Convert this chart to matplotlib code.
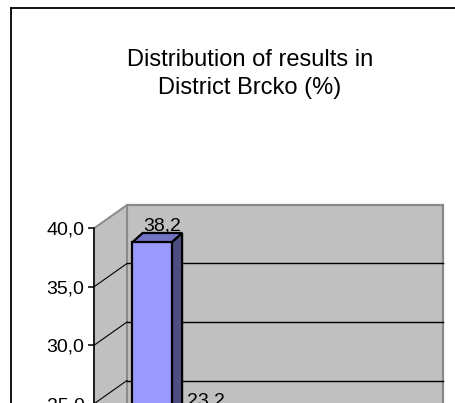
import numpy as np
import matplotlib.pyplot as plt
from matplotlib.patches import Polygon
from matplotlib.lines import Line2D
from matplotlib.transforms import ScaledTranslation
from matplotlib.ticker import FuncFormatter, MultipleLocator

plt.rcParams['font.family'] = ['Liberation Sans', 'DejaVu Sans']

title = "Distribution of results in\nDistrict Brcko (%)"
values = [38.2, 23.2]
y_max = 40
y_step = 5

W, H = 456, 403
fig = plt.figure(figsize=(W / 100, H / 100), dpi=100)

# front plane of the 3D box, in pixels
px_left, px_right = 94, 409.7
px_y40, px_per_unit = 228.3, 11.7
px_y0 = px_y40 + y_max * px_per_unit
cat_px = 43.5          # pixels per category
first_px = 142         # front-plane centre of first bar

ax = fig.add_axes([px_left / W, (H - px_y0) / H,
                   (px_right - px_left) / W, (px_y0 - px_y40) / H])
ax.set_xlim(-(first_px - px_left) / cat_px, (px_right - first_px) / cat_px)
ax.set_ylim(0, y_max)
x0, x1 = ax.get_xlim()

# depth of the walls (data units)
DX = 33 / cat_px
DY = 23.3 / px_per_unit

wall = '#c0c0c0'
wall_edge = '#8a8a8a'
back = Polygon([(x0 + DX, DY), (x1 + DX, DY), (x1 + DX, y_max + DY), (x0 + DX, y_max + DY)],
               closed=True, fc=wall, ec=wall_edge, lw=1.6, clip_on=False, zorder=1)
side = Polygon([(x0, 0), (x0 + DX, DY), (x0 + DX, y_max + DY), (x0, y_max)],
               closed=True, fc=wall, ec=wall_edge, lw=1.4, clip_on=False, zorder=1)
ax.add_patch(back)
ax.add_patch(side)

for g in np.arange(y_step, y_max, y_step):
    ax.plot([x0 + DX, x1 + DX], [g + DY, g + DY], color='black', lw=1.0, zorder=2, clip_on=False)
    ax.plot([x0, x0 + DX], [g, g + DY], color='black', lw=0.8, zorder=2, clip_on=False)

# bars
bw = 39.4 / cat_px
f0 = 0.3
bdx = 10.5 / cat_px
bdy = 9.4 / px_per_unit
front_c, side_c, top_c = '#9999ff', '#4d4d80', '#7373c4'
lab_shift = ScaledTranslation(0, 8.5 / 72, fig.dpi_scale_trans)
for i in range(len(values) - 1, -1, -1):
    v = values[i]
    l = i - bw / 2 + f0 * DX
    r = i + bw / 2 + f0 * DX
    b = f0 * DY
    t = v + f0 * DY
    kw = dict(closed=True, ec='black', lw=1.6, joinstyle='miter', clip_on=False, zorder=3)
    ax.add_patch(Polygon([(r, b), (r + bdx, b + bdy), (r + bdx, t + bdy), (r, t)], fc=side_c, **kw))
    ax.add_patch(Polygon([(l, t), (r, t), (r + bdx, t + bdy), (l + bdx, t + bdy)], fc=top_c, **kw))
    ax.add_patch(Polygon([(l, b), (r, b), (r, t), (l, t)], fc=front_c, **kw))
    ax.text(i + f0 * DX + bdx, t + bdy / 2, f"{v:.1f}".replace('.', ','),
            ha='center', va='center', fontsize=14, zorder=4,
            transform=ax.transData + lab_shift)

# axis
for s in ['top', 'right', 'bottom']:
    ax.spines[s].set_visible(False)
ax.spines['left'].set_linewidth(1.1)
ax.patch.set_visible(False)
ax.set_xticks([])
ax.yaxis.set_major_locator(MultipleLocator(y_step))
ax.yaxis.set_major_formatter(FuncFormatter(lambda y, p: f"{y:.1f}".replace('.', ',')))
ax.tick_params(axis='y', direction='out', length=4.3, width=1.1, pad=2.5, labelsize=14)

fig.text(250 / W, (H - 74) / H, title, ha='center', va='center',
         fontsize=17, linespacing=1.35)

# outer chart border
fig.add_artist(Line2D([11 / W, 1.0], [(H - 8) / H, (H - 8) / H], color='black', lw=1.3))
fig.add_artist(Line2D([11 / W, 11 / W], [0, (H - 8) / H], color='black', lw=1.3))

fig.savefig('out.png', dpi=100)
